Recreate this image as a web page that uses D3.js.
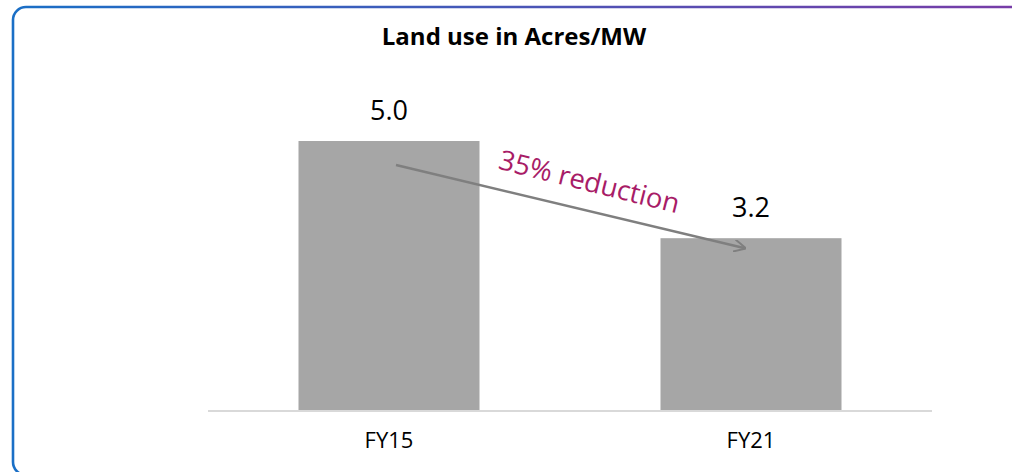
<!DOCTYPE html>
<html>
<head>
<meta charset="utf-8">
<script src="https://cdn.jsdelivr.net/npm/d3@7"></script>
<style>
  html, body { margin: 0; padding: 0; background: #fff; }
  svg { display: block; font-family: "Open Sans", "Noto Sans", sans-serif; }
</style>
</head>
<body>
<svg id="chart"></svg>
<script>
// Land use chart data
const categories = ['FY15', 'FY21'];
const values = [5.0, 3.2];
const valueLabels = ['5.0', '3.2'];
const chartTitle = 'Land use in Acres/MW';
const noteText = '35% reduction';

(function() {
    const width = 1012, height = 472;
    const svg = d3.select('#chart').attr('width', width).attr('height', height);

    // Frame gradient, blue to purple
    const defs = svg.append('defs');
    const grad = defs.append('linearGradient').attr('id', 'frame').attr('x1', '0%').attr('x2', '100%');
    grad.append('stop').attr('offset', '0%').attr('stop-color', '#1a6fc6');
    grad.append('stop').attr('offset', '100%').attr('stop-color', '#7b3aa6');

    defs.append('marker').attr('id', 'arrow')
        .attr('viewBox', '0 0 10 10').attr('refX', 9).attr('refY', 5)
        .attr('markerWidth', 5).attr('markerHeight', 5).attr('orient', 'auto')
        .append('path').attr('d', 'M0,0 L10,5 L0,10').attr('fill', 'none')
        .attr('stroke', '#7f7f7f').attr('stroke-width', 1.6);

    svg.append('rect')
        .attr('x', 13).attr('y', 7).attr('width', 1040).attr('height', 468)
        .attr('rx', 13).attr('ry', 13)
        .attr('fill', 'none').attr('stroke', 'url(#frame)').attr('stroke-width', 2.6);

    svg.append('text')
        .attr('x', 514).attr('y', 45)
        .attr('text-anchor', 'middle')
        .attr('font-weight', 700).attr('font-size', 24)
        .attr('fill', '#000')
        .text(chartTitle);

    const x = d3.scaleBand().domain(categories).range([208, 932]).paddingInner(0.5).paddingOuter(0.25);
    const y = d3.scaleLinear().domain([0, 6]).range([411, 87]);

    // Bars
    svg.selectAll('.bar').data(values).enter().append('rect')
        .attr('class', 'bar')
        .attr('x', (d, i) => x(categories[i]))
        .attr('y', d => y(d))
        .attr('width', x.bandwidth())
        .attr('height', d => y(0) - y(d))
        .attr('fill', '#a6a6a6');

    // Baseline
    svg.append('line')
        .attr('x1', 208).attr('x2', 932)
        .attr('y1', y(0)).attr('y2', y(0))
        .attr('stroke', '#d9d9d9').attr('stroke-width', 2);

    // Category labels
    const xAxis = svg.append('g').attr('transform', 'translate(0,' + y(0) + ')')
        .call(d3.axisBottom(x).tickSize(0).tickPadding(21));
    xAxis.select('.domain').remove();
    xAxis.selectAll('text')
        .attr('font-family', '"Open Sans", sans-serif')
        .attr('font-size', 22).attr('fill', '#000');

    // Value labels
    svg.selectAll('.val').data(values).enter().append('text')
        .attr('class', 'val')
        .attr('x', (d, i) => x(categories[i]) + x.bandwidth() / 2)
        .attr('y', d => y(d) - 21)
        .attr('text-anchor', 'middle')
        .attr('font-size', 27).attr('fill', '#000')
        .text((d, i) => valueLabels[i]);

    // Reduction arrow
    const x0 = x(categories[0]) + x.bandwidth() / 2 + 7;
    const x1 = x(categories[1]) + x.bandwidth() / 2 - 6;
    const y0 = y(values[0]) + 24;
    const y1 = y(values[1]) + 10;
    svg.append('line')
        .attr('x1', x0).attr('y1', y0).attr('x2', x1).attr('y2', y1)
        .attr('stroke', '#7f7f7f').attr('stroke-width', 2.5)
        .attr('marker-end', 'url(#arrow)');

    const angle = Math.atan2(y1 - y0, x1 - x0) * 180 / Math.PI + 0.6;
    svg.append('text')
        .attr('transform', 'translate(587,191) rotate(' + angle + ')')
        .attr('text-anchor', 'middle')
        .attr('font-size', 27.5).attr('fill', '#a81c67')
        .text(noteText);
})();
</script>
</body>
</html>
